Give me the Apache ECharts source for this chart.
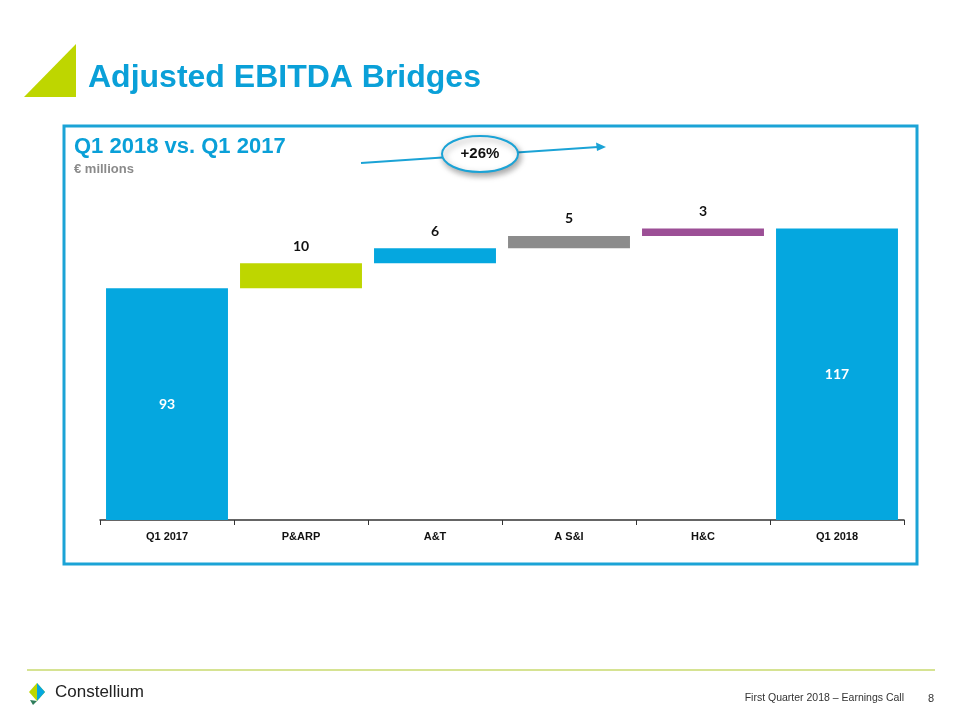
<!DOCTYPE html>
<html><head><meta charset="utf-8">
<script src="https://cdn.jsdelivr.net/npm/echarts@6/dist/echarts.min.js"></script>
<style>html,body{margin:0;padding:0;background:#fff}#c{width:960px;height:720px}</style>
</head><body><div id="c"></div>
<script>
const categories = ['Q1 2017', 'P&ARP', 'A&T', 'A S&I', 'H&C', 'Q1 2018'];
const values = [93, 10, 6, 5, 3, 117];
const isTotal = [true, false, false, false, false, true];
const barColors = ['#05A7DF', '#BED600', '#05A7DF', '#8C8C8C', '#9C4F96', '#05A7DF'];

// build invisible base for waterfall
const bases = [];
let run = 0;
values.forEach((v, i) => {
  if (isTotal[i]) { bases.push(0); run = v; }
  else { bases.push(run); run += v; }
});

const SANS = 'Liberation Sans';
const chart = echarts.init(document.getElementById('c'));
const BLUE = '#0AA0D8';
function txt(o, text, size, color, weight, family, extra) {
  return Object.assign({ type: 'text', style: Object.assign({ text, fontSize: size, fill: color,
    fontWeight: weight, fontFamily: family }, extra || {}) }, o);
}
chart.setOption({
  animation: false,
  grid: { left: 100, right: 56, top: 196, bottom: 200 },
  xAxis: {
    type: 'category', data: categories,
    axisLine: { lineStyle: { color: '#333', width: 1.5 } },
    axisTick: { show: true, length: 5, lineStyle: { color: '#333' } },
    axisLabel: { color: '#111', fontWeight: 'bold', fontSize: 11, margin: 11, fontFamily: SANS }
  },
  yAxis: { type: 'value', min: 0, max: 130, show: false, splitLine: { show: false } },
  series: [
    { type: 'bar', stack: 'w', data: bases, itemStyle: { color: 'transparent' },
      barCategoryGap: '9%', silent: true },
    { type: 'bar', stack: 'w',
      data: values.map((v, i) => ({ value: v, itemStyle: { color: barColors[i] },
        label: isTotal[i]
          ? { show: true, position: 'inside', color: '#fff', fontSize: 14, fontWeight: 'bold', fontFamily: 'Lato' }
          : { show: true, position: 'top', distance: 10, color: '#111', fontSize: 14, fontWeight: 'bold', fontFamily: 'Lato' }
      })),
      barCategoryGap: '9%'
    }
  ],
  graphic: [
    { type: 'polygon', shape: { points: [[24, 97], [76, 44], [76, 97]] }, style: { fill: '#BED600' } },
    txt({ left: 88, top: 62 }, 'Adjusted EBITDA Bridges', 32, BLUE, 'bold', SANS),
    { type: 'rect', shape: { x: 64, y: 126, width: 853, height: 438 },
      style: { fill: 'none', stroke: '#1BA3D6', lineWidth: 3 } },
    txt({ left: 74, top: 136 }, 'Q1 2018 vs. Q1 2017', 22, BLUE, 'bold', SANS),
    txt({ left: 74, top: 163 }, '€ millions', 13, '#8A8A8A', 'bold', SANS),
    { type: 'line', shape: { x1: 361, y1: 163, x2: 598, y2: 147 }, style: { stroke: '#1BA3D6', lineWidth: 2 } },
    { type: 'polygon', shape: { points: [[606, 147], [596, 142.5], [597, 151]] }, style: { fill: '#1BA3D6' } },
    { type: 'ellipse', shape: { cx: 480, cy: 154, rx: 38, ry: 18 },
      style: { fill: '#fff', stroke: '#1BA3D6', lineWidth: 2, shadowBlur: 6, shadowOffsetX: 2, shadowOffsetY: 3, shadowColor: 'rgba(0,0,0,0.35)' } },
    txt({ x: 480, y: 154 }, '+26%', 15, '#111', 'bold', SANS, { align: 'center', verticalAlign: 'middle' }),
    { type: 'line', shape: { x1: 27, y1: 670, x2: 935, y2: 670 }, style: { stroke: '#C9DA6E', lineWidth: 1.5 } },
    { type: 'polygon', shape: { points: [[37, 683], [45, 692], [37, 701], [29, 692]] }, style: { fill: '#BED600' } },
    { type: 'polygon', shape: { points: [[37, 683], [45, 692], [37, 701]] }, style: { fill: '#05A7DF' } },
    { type: 'polygon', shape: { points: [[30, 700], [37, 701], [33, 705]] }, style: { fill: '#2E7D5B' } },
    txt({ left: 55, top: 684 }, 'Constellium', 17, '#222', 'normal', SANS),
    txt({ right: 56, top: 693 }, 'First Quarter 2018 – Earnings Call', 10.5, '#333', 'normal', SANS),
    txt({ left: 928, top: 693 }, '8', 11, '#333', 'normal', SANS)
  ]
});
</script></body></html>
